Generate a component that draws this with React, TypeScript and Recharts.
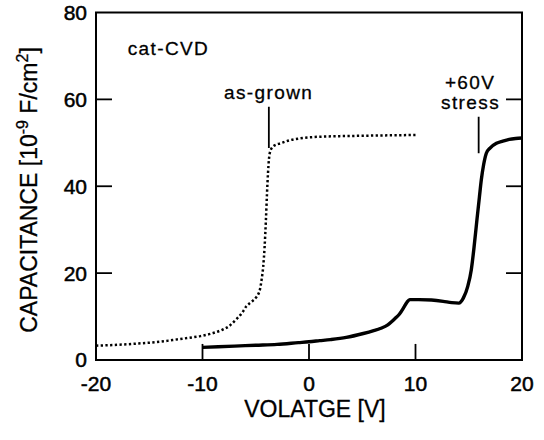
import React from 'react';
import { LineChart, Line, XAxis, YAxis, ReferenceLine, ReferenceDot, ReferenceArea } from 'recharts';

// as-grown (dotted) curve
const asGrownV = [-20, -18, -16, -14, -12.8, -11, -10.2, -9, -8.2, -7.5, -6.9, -6.3, -5.9, -5.4, -5.0, -4.6, -4.45, -4.3, -4.17, -4.05, -3.95, -3.85, -3.75, -3.6, -3.3, -2.65, -1.8, -0.9, 1, 4.4, 7, 10];
const asGrownC = [3.3, 3.5, 3.8, 4.2, 4.6, 5.2, 5.5, 6.2, 6.9, 7.8, 9.2, 10.8, 12.3, 13.4, 14.3, 16.3, 18.5, 21.5, 26, 32, 38, 43, 46.5, 48.3, 49.3, 49.9, 50.6, 51.0, 51.4, 51.6, 51.7, 51.8];

// +60V stress (solid) curve
const stressV = [-10, -7, -5, -3, -1, 0, 1, 2, 3.5, 5.1, 6, 6.75, 7.4, 7.75, 8.1, 8.5, 8.9, 9.2, 9.45, 10.3, 11.5, 12.6, 13.4, 14.07, 14.5, 14.9, 15.24, 15.5, 15.77, 16.0, 16.18, 16.4, 16.65, 17.0, 17.6, 18.2, 18.8, 19.4, 20];
const stressC = [2.9, 3.2, 3.4, 3.6, 4.0, 4.2, 4.45, 4.7, 5.2, 6.1, 6.7, 7.3, 8.1, 8.8, 9.6, 10.6, 12.1, 13.3, 13.9, 13.9, 13.8, 13.5, 13.2, 13.1, 14.3, 16.9, 20.8, 26, 32.3, 37.5, 41.5, 45, 47.6, 48.8, 49.9, 50.4, 50.8, 51.0, 51.1];

const xTicks = [-20, -10, 0, 10, 20];
const yTicks = [0, 20, 40, 60, 80];
const xInnerTicks = [-10, 0, 10];
const yInnerTicks = [20, 40, 60];
const X_MIN = -20;
const X_MAX = 20;
const Y_MIN = 0;
const Y_MAX = 80;
const TICK_LEN_V = 1.5; // inward tick length in volts
const TICK_LEN_C = 3.7; // inward tick length in capacitance units

const annTexts = ['cat-CVD', 'as-grown', '+60V', 'stress'];
const annV = [-17.03, -3.79, 15.13, 15.17];
const annC = [70.2, 60.1, 62.5, 57.7];
const annAnchor = ['start', 'middle', 'middle', 'middle'];

const markerV = [-3.77, 15.93];
const markerLow = [48.8, 47.6];
const markerHigh = [58.3, 56];

const asGrown = asGrownV.map((v, i) => ({ v, c: asGrownC[i] }));
const stress = stressV.map((v, i) => ({ v, c: stressC[i] }));

const FONT = '"Liberation Sans", Arial, Helvetica, sans-serif';

const annLabel = (text: string, anchor: string) => (props: any) => {
  const vb = props.viewBox || {};
  const x = (vb.x ?? 0) + (vb.width ?? 0) / 2;
  const y = (vb.y ?? 0) + (vb.height ?? 0) / 2;
  return (
    <text x={x} y={y} textAnchor={anchor as any} fontFamily={FONT} fontSize={19} letterSpacing={1.4} fill="#000" stroke="#000" strokeWidth={0.3}>
      {text}
    </text>
  );
};

const xTitle = () => (
  <text x={315} y={416.5} textAnchor="middle" fontFamily={FONT} fontSize={23} fill="#000" stroke="#000" strokeWidth={0.3}>
    VOLATGE [V]
  </text>
);

const yTitle = () => (
  <text x={37} y={190} transform="rotate(-90, 37, 190)" textAnchor="middle" fontFamily={FONT} fontSize={23} fill="#000" stroke="#000" strokeWidth={0.3}>
    CAPACITANCE [10
    <tspan dy={-9} fontSize={16}>-9</tspan>
    <tspan dy={9}> F/cm</tspan>
    <tspan dy={-9} fontSize={16}>2</tspan>
    <tspan dy={9}>]</tspan>
  </text>
);

const tickStyle = { fill: '#000', fontSize: 21, fontFamily: FONT, stroke: '#000', strokeWidth: 0.5 };

export default function App() {
  return (
    <div style={{ position: 'absolute', left: 0, top: 0, width: 544, height: 440, background: '#fff' }}>
      <LineChart width={544} height={440} margin={{ top: 12.5, right: 22, bottom: 0, left: 0 }}>
        <XAxis
          xAxisId="b"
          type="number"
          dataKey="v"
          domain={[X_MIN, X_MAX]}
          ticks={xTicks}
          orientation="bottom"
          height={80}
          tickSize={0}
          tickMargin={16}
          tick={tickStyle}
          axisLine={false}
          tickLine={false}
          allowDataOverflow
          label={xTitle}
        />
        <YAxis
          yAxisId="l"
          type="number"
          domain={[Y_MIN, Y_MAX]}
          ticks={yTicks}
          orientation="left"
          width={96}
          tickSize={0}
          tickMargin={9}
          tick={tickStyle}
          axisLine={false}
          tickLine={false}
          allowDataOverflow
          label={yTitle}
        />
        <ReferenceArea
          xAxisId="b"
          yAxisId="l"
          x1={X_MIN}
          x2={X_MAX}
          y1={Y_MIN}
          y2={Y_MAX}
          fill="none"
          fillOpacity={0}
          stroke="#000"
          strokeWidth={2}
        />
        {xInnerTicks.map((t) => (
          <ReferenceLine
            key={'xt' + t}
            xAxisId="b"
            yAxisId="l"
            segment={[{ x: t, y: Y_MIN }, { x: t, y: Y_MIN + TICK_LEN_C }]}
            stroke="#000"
            strokeWidth={1.8}
          />
        ))}
        {yInnerTicks.map((t) => (
          <ReferenceLine
            key={'yl' + t}
            xAxisId="b"
            yAxisId="l"
            segment={[{ x: X_MIN, y: t }, { x: X_MIN + TICK_LEN_V, y: t }]}
            stroke="#000"
            strokeWidth={1.8}
          />
        ))}
        {yInnerTicks.map((t) => (
          <ReferenceLine
            key={'yr' + t}
            xAxisId="b"
            yAxisId="l"
            segment={[{ x: X_MAX - TICK_LEN_V, y: t }, { x: X_MAX, y: t }]}
            stroke="#000"
            strokeWidth={1.8}
          />
        ))}
        <Line
          xAxisId="b"
          yAxisId="l"
          data={asGrown}
          dataKey="c"
          type="monotone"
          stroke="#000"
          strokeWidth={2.5}
          strokeDasharray="2.3 2.4"
          dot={false}
          isAnimationActive={false}
        />
        <Line
          xAxisId="b"
          yAxisId="l"
          data={stress}
          dataKey="c"
          type="monotone"
          stroke="#000"
          strokeWidth={3.4}
          dot={false}
          isAnimationActive={false}
        />
        {markerV.map((v, i) => (
          <ReferenceLine
            key={'m' + i}
            xAxisId="b"
            yAxisId="l"
            segment={[{ x: v, y: markerLow[i] }, { x: v, y: markerHigh[i] }]}
            stroke="#000"
            strokeWidth={1.8}
          />
        ))}
        {annTexts.map((t, i) => (
          <ReferenceDot
            key={'a' + i}
            xAxisId="b"
            yAxisId="l"
            x={annV[i]}
            y={annC[i]}
            r={1}
            fill="none"
            stroke="none"
            label={annLabel(t, annAnchor[i])}
          />
        ))}
      </LineChart>
    </div>
  );
}
